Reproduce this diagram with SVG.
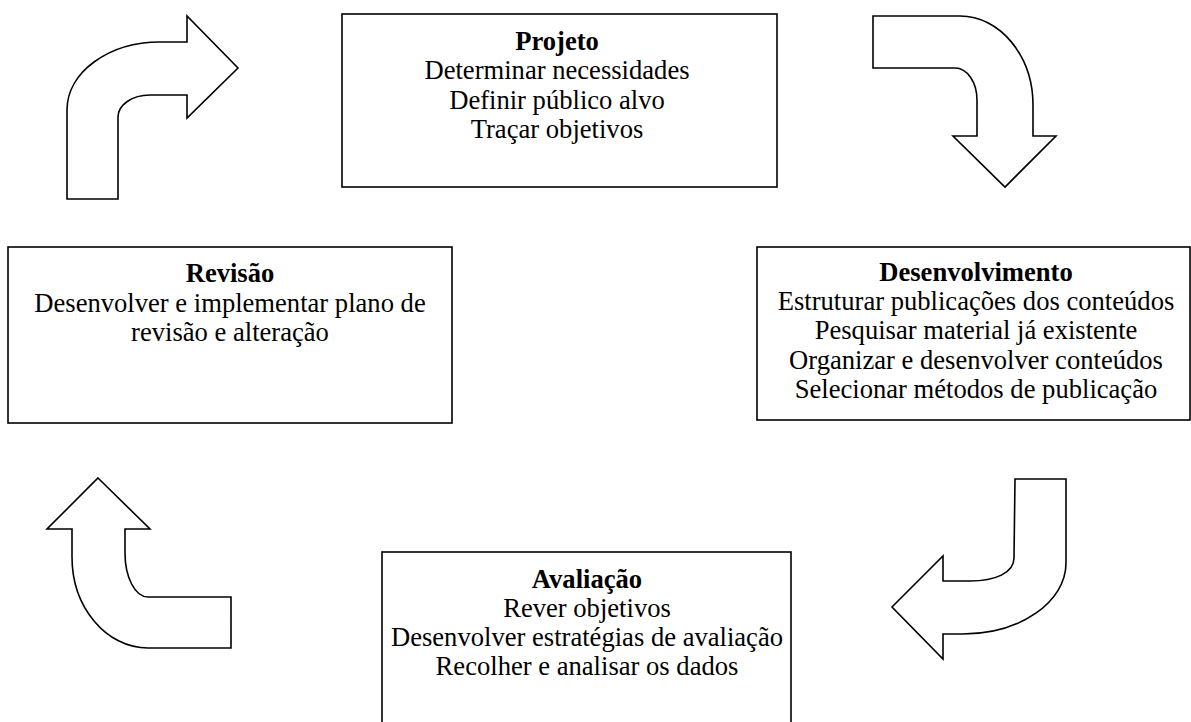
<svg xmlns="http://www.w3.org/2000/svg" width="1191" height="722" viewBox="0 0 1191 722">
  <style>
    .box { fill: #ffffff; stroke: #000000; stroke-width: 1.6; }
    .arrow { fill: #ffffff; stroke: #000000; stroke-width: 1.6; stroke-linejoin: miter; }
    text { font-family: "Liberation Serif", "Times New Roman", serif; font-size: 26.6px; fill: #000000; text-anchor: middle; }
    .title { font-weight: bold; }
  </style>
  <rect width="1191" height="722" fill="#ffffff"/>

  <!-- curved block arrows linking the phases -->
  <g id="connectors">
    <path id="arrow-revisao-projeto" class="arrow" d="M 67,199 L 67,110 C 67,72 109,42 160,42 L 187,42 L 187,16 L 238,68 L 187,118 L 187,95 L 150,95 C 132,95 118,105 118,117 L 118,199 Z"/>
    <path id="arrow-projeto-desenvolvimento" class="arrow" d="M 873,16 L 960,16 C 1000,16 1033,56 1033,105 L 1033,136 L 1056,136 L 1005,187 L 953,136 L 977,136 L 977,100 C 977,82 967,68 955,68 L 873,68 Z"/>
    <path id="arrow-desenvolvimento-avaliacao" class="arrow" d="M 1015,479 L 1066,479 L 1066,563 C 1066,602 1020,634 963,634 L 943,634 L 943,659 L 892,607 L 943,556 L 943,581 L 970,581 C 995,581 1014,573 1014,558 Z"/>
    <path id="arrow-avaliacao-revisao" class="arrow" d="M 98,478 L 150,529 L 125,529 L 125,553 C 125,577 135,597 148,597 L 231,597 L 231,648 L 148,648 C 106,648 72,607 72,557 L 72,529 L 47,529 Z"/>
  </g>

  <g id="projeto">
    <rect class="box" x="342" y="14" width="435" height="173"/>
    <text class="title" x="557" y="50">Projeto</text>
    <text x="557" y="79">Determinar necessidades</text>
    <text x="557" y="109">Definir público alvo</text>
    <text x="557" y="138">Traçar objetivos</text>
  </g>

  <g id="desenvolvimento">
    <rect class="box" x="757" y="247" width="433" height="173"/>
    <text class="title" x="976" y="281">Desenvolvimento</text>
    <text x="976" y="310">Estruturar publicações dos conteúdos</text>
    <text x="976" y="339">Pesquisar material já existente</text>
    <text x="976" y="369">Organizar e desenvolver conteúdos</text>
    <text x="976" y="398">Selecionar métodos de publicação</text>
  </g>

  <g id="revisao">
    <rect class="box" x="8" y="247" width="444" height="176"/>
    <text class="title" x="230" y="282">Revisão</text>
    <text x="230" y="312">Desenvolver e implementar plano de</text>
    <text x="230" y="341">revisão e alteração</text>
  </g>

  <g id="avaliacao">
    <rect class="box" x="382" y="552" width="409" height="190"/>
    <text class="title" x="587" y="588">Avaliação</text>
    <text x="587" y="617">Rever objetivos</text>
    <text x="587" y="646">Desenvolver estratégias de avaliação</text>
    <text x="587" y="675">Recolher e analisar os dados</text>
  </g>
</svg>
